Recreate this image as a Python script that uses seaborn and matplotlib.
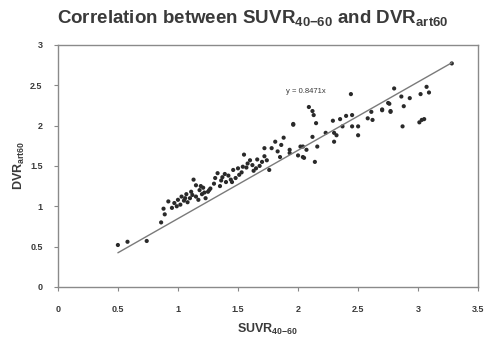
import matplotlib
matplotlib.use("Agg")
import matplotlib.pyplot as plt
import seaborn as sns
import numpy as np
import pandas as pd

# data
suvr = [0.50, 0.58, 0.74, 0.86, 0.89, 0.88, 0.92, 0.95,
        0.97, 1.00, 1.02, 1.03, 1.05, 1.07, 1.08, 1.10, 1.11, 1.13, 1.15, 1.15,
        1.17, 1.18, 1.20, 1.21, 1.23, 1.25, 1.27, 1.30, 1.33, 1.35, 1.37, 1.40,
        1.42, 1.44, 1.46, 1.48, 1.51, 1.53, 1.55, 1.57, 1.60, 1.62, 1.63, 1.65,
        1.68, 1.70, 1.72, 1.74, 1.76, 1.78, 1.81, 1.85, 1.86, 1.88, 1.93, 1.93,
        1.96, 1.96, 2.00, 2.02, 2.04, 2.04, 2.05, 2.07, 2.09, 2.12, 2.12, 2.13,
        2.14, 2.15, 2.16, 2.23, 2.29, 2.30, 2.30, 2.32, 2.35, 2.37, 2.40, 2.44,
        2.45, 2.45, 2.50, 2.50, 2.58, 2.61, 2.62, 2.70, 2.70, 2.75, 2.76, 2.77,
        2.77, 2.80, 2.86, 2.87, 2.88, 2.93, 3.01, 3.02, 3.03, 3.05, 3.07, 3.09,
        3.28, 1.12, 1.06, 1.19, 1.26, 1.31, 1.39, 1.45, 1.50, 1.58, 1.66, 1.22,
        0.99, 1.36, 1.54, 1.72, 1.83]
dvr = [0.52, 0.56, 0.57, 0.80, 0.90, 0.97, 1.06, 0.98,
       1.04, 1.08, 1.02, 1.12, 1.07, 1.15, 1.05, 1.10, 1.18, 1.33, 1.26, 1.12,
       1.08, 1.20, 1.15, 1.23, 1.10, 1.18, 1.22, 1.28, 1.41, 1.25, 1.36, 1.30,
       1.38, 1.33, 1.45, 1.35, 1.39, 1.42, 1.64, 1.48, 1.57, 1.51, 1.44, 1.47,
       1.50, 1.55, 1.72, 1.57, 1.45, 1.72, 1.80, 1.61, 1.76, 1.85, 1.66, 1.70,
       2.01, 2.02, 1.63, 1.74, 1.61, 1.74, 1.60, 1.70, 2.23, 2.18, 1.86, 2.13,
       1.55, 2.03, 1.74, 1.91, 2.06, 1.91, 1.80, 1.88, 2.08, 1.99, 2.12, 2.39,
       2.13, 1.99, 1.99, 1.88, 2.09, 2.17, 2.07, 2.19, 2.20, 2.28, 2.27, 2.17,
       2.18, 2.46, 2.36, 1.99, 2.24, 2.34, 2.04, 2.39, 2.07, 2.08, 2.48, 2.41,
       2.77, 1.14, 1.10, 1.25, 1.20, 1.35, 1.40, 1.30, 1.47, 1.53, 1.58, 1.17,
       1.00, 1.32, 1.49, 1.62, 1.68]
slope = 0.8471
eq_label = "y = 0.8471x"
x_ticks = [0, 0.5, 1, 1.5, 2, 2.5, 3, 3.5]
x_tick_labels = ["0", "0.5", "1", "1.5", "2", "2.5", "3", "3.5"]
y_ticks = [0, 0.5, 1, 1.5, 2, 2.5, 3]
y_tick_labels = ["0", "0.5", "1", "1.5", "2", "2.5", "3"]

df = pd.DataFrame({"SUVR": suvr, "DVR": dvr})

sns.set_style("white")
plt.rcParams["font.family"] = ["Liberation Sans", "DejaVu Sans"]
plt.rcParams["mathtext.fontset"] = "custom"
plt.rcParams["mathtext.rm"] = "Liberation Sans:bold"
plt.rcParams["mathtext.bf"] = "Liberation Sans:bold"
plt.rcParams["mathtext.it"] = "Liberation Sans:bold"
plt.rcParams["mathtext.default"] = "bf"

txt = "#3a3a3a"
fig = plt.figure(figsize=(4.86, 3.40), dpi=100)
ax = fig.add_axes([0.119, 0.156, 0.865, 0.712])

sns.scatterplot(data=df, x="SUVR", y="DVR", ax=ax, color="#2a2a2a",
                s=9, edgecolor="none", linewidth=0, legend=False)
xl = np.array([min(suvr), max(suvr)])
ax.plot(xl, slope * xl, color="#7a7a7a", lw=1.0, zorder=1)

ax.set_xlim(0, 3.5)
ax.set_ylim(0, 3)
ax.set_xticks(x_ticks)
ax.set_xticklabels(x_tick_labels)
ax.set_yticks(y_ticks)
ax.set_yticklabels(y_tick_labels)
ax.tick_params(axis="both", which="both", direction="out", length=3, width=0.8,
               color="#888888", labelsize=6.5, labelcolor=txt, pad=4,
               bottom=True, left=True)
ax.tick_params(axis="x", pad=10)
ax.tick_params(axis="y", pad=8)
for lab in ax.get_xticklabels() + ax.get_yticklabels():
    lab.set_fontweight("bold")
for sp in ax.spines.values():
    sp.set_color("#8a8a8a")
    sp.set_linewidth(1.0)

ax.set_xlabel("SUVR$_{40{-}60}$", fontsize=9, fontweight="bold", color=txt, labelpad=6)
ax.set_ylabel("DVR$_{art60}$", fontsize=9, fontweight="bold", color=txt, labelpad=2)

ax.text(1.90, 2.42, eq_label, fontsize=5.5, color=txt, ha="left", va="center")

fig.text(0.52, 0.948, "Correlation between SUVR$_{40{-}60}$ and DVR$_{art60}$",
         fontsize=13.5, fontweight="bold", color=txt, ha="center", va="center")

fig.savefig("out.png", dpi=100, facecolor="white")
